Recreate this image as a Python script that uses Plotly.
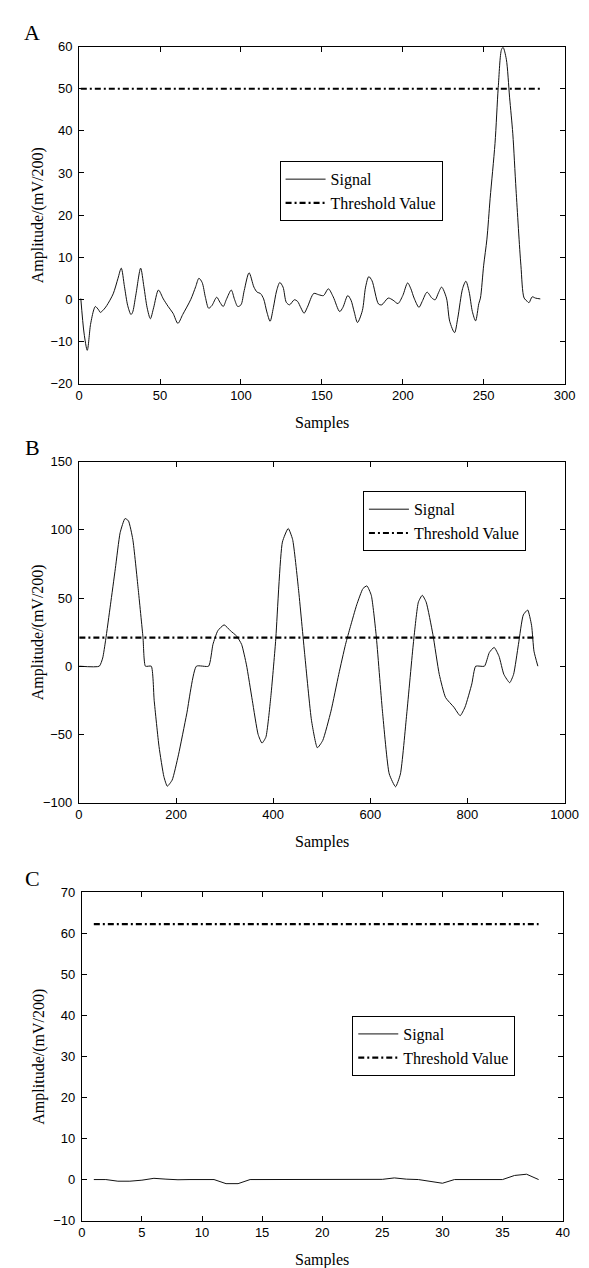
import plotly.graph_objects as go

# ---------------- data ----------------
a_samples = [1, 3, 5, 7, 9, 10, 12, 13, 15, 17, 21, 24, 26, 28, 30, 32, 33, 35, 38, 40,
             42, 44, 46, 49, 52, 55, 58, 61, 64, 69, 72, 74, 76, 78, 80, 82, 85, 87, 89, 91,
             94, 96, 98, 100, 102, 105, 108, 110, 112, 114, 116, 118, 120, 122, 124, 126, 128, 130, 133, 135,
             137, 139, 141, 145, 148, 151, 154, 157, 161, 163, 166, 168, 170, 172, 175, 177, 179, 181, 185, 187,
             191, 194, 197, 200, 203, 205, 207, 210, 212, 215, 218, 220, 222, 224, 227, 229, 232, 234, 237, 239,
             241, 243, 245, 247, 248, 250, 252, 254, 257, 259, 261, 262, 264, 266, 268, 270, 273, 275, 277, 278,
             280, 282, 285]
a_values = [0.2, -8, -12.1, -6, -2.5, -1.7, -2.5, -3.1, -2.5, -1.5, 1.3, 5, 7.4, 3, -1.5, -3.6, -3.1, 1, 7.4, 3,
            -2, -4.6, -2, 2.2, 0.1, -1.7, -3.3, -5.7, -3.6, 0, 3, 5, 4, 0.5, -2.1, -1.5, 0.5, -0.7, -1.7, 0,
            2.2, 0, -1.7, -1.3, 2.1, 6.3, 2.9, 1.7, 1.4, 0.1, -3, -5.2, -2, 2, 4, 2.9, -0.7, -1.3, -0.1, -0.5,
            -2, -3.3, -1.9, 1.4, 1.1, 0.9, 2.5, 0.6, -2.9, -1.9, 0.9, -0.2, -3, -5.5, -2.7, 2.9, 5.4, 4.4, -1.1, -1.3,
            0.3, -0.2, -1.0, 0.9, 3.9, 2.5, 0.3, -1.9, -0.5, 1.7, 0.3, -0.1, 1.5, 2.9, 0.3, -5.2, -7.9, -4.4, 2.6, 4.3,
            1.8, -2.9, -5.1, -1, 0.3, 8.1, 14.3, 24, 37, 50.3, 59.3, 59.8, 57, 48, 39.3, 26, 8.1, 0.3, -0.5, -0.8,
            0.6, 0.3, 0.1]
a_threshold = 50
a_threshold_span = [1, 285]

b_samples = [1, 42, 49, 55, 65, 75, 85, 95, 102, 111, 122, 132, 137, 149, 155, 165, 175, 182, 192, 205,
             222, 242, 267, 276, 286, 299, 312, 325, 335, 345, 357, 369, 377, 385, 395, 405, 419, 431, 440, 452,
             465, 479, 491, 502, 519, 535, 549, 559, 572, 585, 593, 602, 612, 625, 639, 652, 662, 675, 689, 699,
             707, 715, 729, 742, 755, 772, 785, 795, 809, 817, 835, 845, 855, 865, 875, 887, 895, 905, 915, 924,
             932, 937, 945]
b_values = [0, 0, 6, 19, 45, 71.5, 98, 108.3, 106.6, 93, 57, 21, 0, 0, -25, -59, -81, -88, -83.5, -65,
            -35, 0, 0, 16, 26, 30.3, 26, 22, 16, 1, -25, -50, -56.4, -52, -23, 18, 91, 101, 93, 57,
            8.5, -40, -59.8, -54.5, -33, -6, 16, 29, 45, 57, 58.9, 52, 23, -33, -79, -88.4, -79, -35, 18, 47,
            52, 47, 23, -6, -23, -30, -36.3, -30, -13, 0, 0, 10, 13.8, 7.3, -6, -12.1, -6, 16, 37.6, 41.2,
            30, 11, 0]
b_threshold = 21
b_threshold_span = [1, 942]

c_samples = list(range(1, 39))
c_values = [0, 0, -0.4, -0.4, -0.15, 0.3, 0.1, -0.05, 0, 0, 0, -1.0, -1.0, 0, 0, 0, 0, 0, 0, 0,
            0, 0, 0, -0.05, 0.05, 0.4, 0.1, 0, -0.5, -0.9, 0, 0, 0, 0, 0, 1.0, 1.3, 0]
c_threshold = 62.3
c_threshold_span = [1, 38]

panel_labels = ["A", "B", "C"]
x_title = "Samples"
y_title = "Amplitude/(mV/200)"

# ---------------- layout geometry (pixels of the 589x1268 page) ----------------
W, H = 589, 1268
panels = [
    dict(left=69.3, right=570, top=32, bottom=373, xr=[0, 300], xd=50, yr=[-20, 60], yd=10,
         leg=(276, 148)),
    dict(left=69, right=570, top=452, bottom=797, xr=[0, 1000], xd=200, yr=[-100, 150], yd=50,
         leg=(362, 482)),
    dict(left=72, right=568, top=888, bottom=1220, xr=[0, 40], xd=5, yr=[-10, 70], yd=10,
         leg=(351, 1013)),
]
series = [
    (a_samples, a_values, a_threshold_span, a_threshold, 0.8),
    (b_samples, b_values, b_threshold_span, b_threshold, 0.5),
    (c_samples, c_values, c_threshold_span, c_threshold, 0),
]

SERIF = "Liberation Serif, Times New Roman, serif"
SANS = "Liberation Sans, Arial, sans-serif"

fig = go.Figure()
layout = dict(width=W, height=H, margin=dict(l=0, r=0, t=0, b=0),
              paper_bgcolor="white", plot_bgcolor="white", annotations=[])

for i, (p, s) in enumerate(zip(panels, series)):
    n = "" if i == 0 else str(i + 1)
    xs, ys, span, thr, smooth = s
    leg = "legend" + n
    line_kw = dict(color="#111111", width=1)
    if smooth > 0:
        line_kw.update(shape="spline", smoothing=smooth)
    fig.add_trace(go.Scatter(x=xs, y=ys, mode="lines", name="Signal", line=line_kw,
                             xaxis="x" + n, yaxis="y" + n, legend=leg, showlegend=True))
    fig.add_trace(go.Scatter(x=span, y=[thr, thr], mode="lines", name="Threshold Value",
                             line=dict(color="black", width=2.2, dash="6px,3px,2px,3px"),
                             xaxis="x" + n, yaxis="y" + n, legend=leg, showlegend=True))
    ax_common = dict(showline=True, linecolor="black", linewidth=1, mirror="ticks",
                     ticks="inside", ticklen=5, tickcolor="black", showgrid=False,
                     zeroline=False, tickfont=dict(family=SANS, size=13, color="black"))
    layout["xaxis" + n] = dict(domain=[p["left"] / W, p["right"] / W], range=p["xr"],
                               dtick=p["xd"], tick0=0, anchor="y" + n, **ax_common)
    layout["yaxis" + n] = dict(domain=[1 - p["bottom"] / H, 1 - p["top"] / H], range=p["yr"],
                               dtick=p["yd"], tick0=0, anchor="x" + n, ticklabelstandoff=3,
                               **ax_common)
    layout[leg] = dict(x=p["leg"][0] / W, y=1 - p["leg"][1] / H, xanchor="left", yanchor="top",
                       bgcolor="white", bordercolor="black", borderwidth=1,
                       font=dict(family=SERIF, size=16, color="black"),
                       itemwidth=40, tracegroupgap=0)
    cx = (p["left"] + p["right"]) / 2
    layout["annotations"] += [
        dict(text=x_title, x=cx / W, y=1 - (p["bottom"] + 40) / H, xref="paper", yref="paper",
             xanchor="center", yanchor="middle", showarrow=False,
             font=dict(family=SERIF, size=16, color="black")),
        dict(text=y_title, x=27 / W, y=1 - (p["top"] + p["bottom"]) / 2 / H, xref="paper",
             yref="paper", xanchor="center", yanchor="middle", showarrow=False, textangle=-90,
             font=dict(family=SERIF, size=16, color="black")),
        dict(text=panel_labels[i], x=21 / W, y=1 - (p["top"] - 14) / H, xref="paper",
             yref="paper", xanchor="center", yanchor="middle", showarrow=False,
             font=dict(family=SERIF, size=22, color="black")),
    ]

fig.update_layout(**layout)
fig.write_html("out.html")
